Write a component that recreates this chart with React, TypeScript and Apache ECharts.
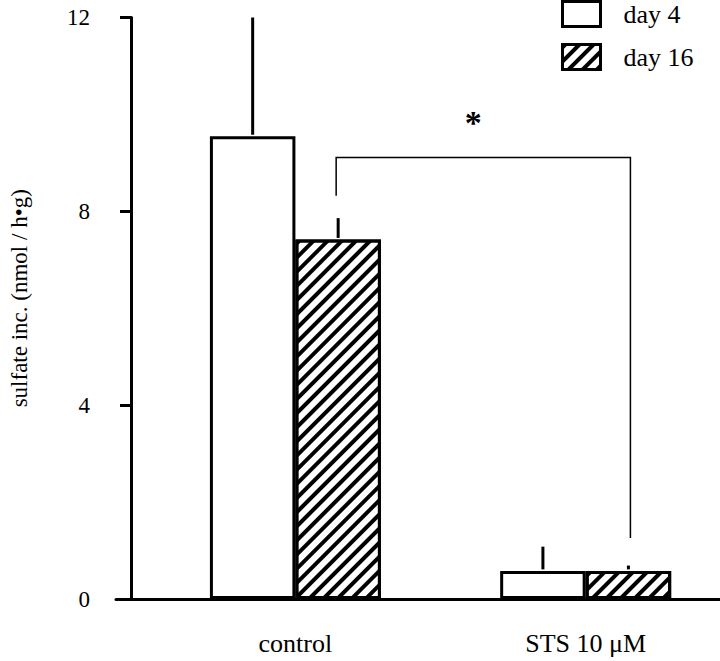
import React, { useEffect, useRef } from "react";
import * as echarts from "echarts";

const categories = ["control", "STS 10 μM"];
const catPos = [1, 2];
const seriesNames = ["day 4", "day 16"];
const day4 = [9.55, 0.58];
const day16 = [7.42, 0.58];
const day4Err = [2.45, 0.5];
const day16Err = [0.44, 0.11];
const yTicks = [0, 4, 8, 12];
// significance bracket between the two day 16 bars
const bracketTop = 9.11;
const bracketLeftEnd = 8.32;
const bracketRightEnd = 1.26;
const bracketMark = "*";

const FONT = "'Liberation Serif', 'Times New Roman', Times, serif";
const BAR_W = 85.5;

export default function App() {
  const ref = useRef<HTMLDivElement>(null);
  useEffect(() => {
    if (!ref.current) return;
    const chart = echarts.init(ref.current, null, { renderer: "svg" });
    const errData: number[][] = [];
    catPos.forEach((x, i) => {
      errData.push([x, day4[i], day4Err[i], -1]);
      errData.push([x, day16[i], day16Err[i], 1]);
    });
    const barStyle = { color: "#fff", borderColor: "#000", borderWidth: 3 };
    const option: any = {
      animation: false,
      backgroundColor: "#fff",
      textStyle: { fontFamily: FONT, color: "#000" },
      grid: { left: 113, right: 0, top: 17.5, bottom: 62 },
      legend: {
        data: seriesNames,
        orient: "vertical",
        left: 561,
        top: 0,
        padding: 0,
        itemWidth: 38,
        itemHeight: 25,
        itemGap: 15,
        icon: "rect",
        itemStyle: { borderColor: "#000", borderWidth: 3 },
        textStyle: { fontSize: 26, fontFamily: FONT, color: "#000", padding: [0, 0, 0, 18] },
      },
      xAxis: {
        type: "value",
        min: 0.3819,
        max: 2.4628,
        splitLine: { show: false },
        axisTick: { show: false },
        axisLine: { show: true, lineStyle: { color: "#000", width: 3 } },
        axisLabel: {
          customValues: catPos,
          formatter: (v: number) => categories[catPos.indexOf(v)] ?? "",
          fontSize: 26,
          fontFamily: FONT,
          color: "#000",
          margin: 31,
        },
      },
      yAxis: {
        type: "value",
        min: yTicks[0],
        max: yTicks[yTicks.length - 1],
        interval: 4,
        offset: -15,
        name: "sulfate inc. (nmol / h•g)",
        nameLocation: "middle",
        nameGap: 100,
        nameTextStyle: { fontSize: 23, fontFamily: FONT, color: "#000", padding: [0, 0, 0, 20] },
        splitLine: { show: false },
        axisLine: { show: true, lineStyle: { color: "#000", width: 3 } },
        axisTick: { show: true, inside: false, length: 11, lineStyle: { color: "#000", width: 3 } },
        axisLabel: { fontSize: 23, fontFamily: FONT, color: "#000", margin: 41 },
      },
      series: [
        {
          name: seriesNames[0],
          type: "bar",
          barWidth: BAR_W,
          barGap: "0%",
          data: catPos.map((x, i) => [x, day4[i]]),
          itemStyle: barStyle,
        },
        {
          name: seriesNames[1],
          type: "bar",
          barWidth: BAR_W,
          barGap: "0%",
          data: catPos.map((x, i) => [x, day16[i]]),
          itemStyle: {
            ...barStyle,
            decal: {
              symbol: "rect",
              symbolSize: 1,
              color: "#000",
              backgroundColor: "#fff",
              dashArrayX: [1, 0],
              dashArrayY: [4, 6],
              rotation: -Math.PI / 4,
            },
          },
        },
        {
          type: "custom",
          data: errData,
          z: 3,
          renderItem: (_p: any, api: any) => {
            const x = api.value(0);
            const y = api.value(1);
            const e = api.value(2);
            const side = api.value(3);
            const base = api.coord([x, y]);
            const top = api.coord([x, y + e]);
            const px = base[0] + (side * BAR_W) / 2;
            return {
              type: "line",
              shape: { x1: px, y1: base[1] - 1.5, x2: px, y2: top[1] },
              style: { stroke: "#000", lineWidth: 3 },
            };
          },
        },
        {
          type: "custom",
          data: [[catPos[0], catPos[1], bracketTop, bracketLeftEnd, bracketRightEnd]],
          z: 3,
          renderItem: (_p: any, api: any) => {
            const l = api.coord([api.value(0), api.value(2)]);
            const r = api.coord([api.value(1), api.value(2)]);
            const lb = api.coord([api.value(0), api.value(3)]);
            const rb = api.coord([api.value(1), api.value(4)]);
            const off = BAR_W / 2;
            return {
              type: "group",
              children: [
                {
                  type: "polyline",
                  shape: {
                    points: [
                      [lb[0] + off - 2, lb[1]],
                      [l[0] + off - 2, l[1]],
                      [r[0] + off + 2, r[1]],
                      [rb[0] + off + 2, rb[1]],
                    ],
                  },
                  style: { stroke: "#000", lineWidth: 1.5, fill: "none" },
                },
                {
                  type: "text",
                  x: (l[0] + r[0]) / 2 + off - 10,
                  y: l[1] - 35,
                  style: {
                    text: bracketMark,
                    fontSize: 34,
                    fontWeight: "bold",
                    fontFamily: FONT,
                    fill: "#000",
                    align: "center",
                    verticalAlign: "middle",
                  },
                },
              ],
            };
          },
        },
      ],
    };
    chart.setOption(option);
    return () => chart.dispose();
  }, []);
  return (
    <div
      ref={ref}
      style={{ position: "fixed", left: 0, top: 0, width: 720, height: 661, background: "#fff" }}
    />
  );
}
